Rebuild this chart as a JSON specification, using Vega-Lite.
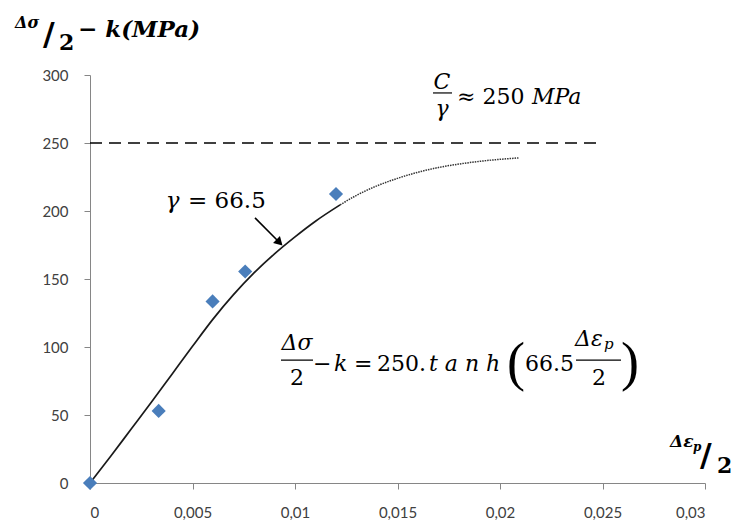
{
  "$schema": "https://vega.github.io/schema/vega-lite/v6.json",
  "width": 615,
  "height": 408,
  "autosize": {"type": "none"},
  "padding": {"left": 90, "top": 75, "right": 35, "bottom": 44},
  "background": "white",
  "config": {
    "view": {"stroke": null},
    "axis": {
      "grid": false,
      "domainColor": "#868686",
      "domainWidth": 1,
      "tickColor": "#868686",
      "tickSize": 6,
      "labelFont": "Lato",
      "labelFontSize": 15,
      "labelColor": "#404040"
    }
  },
  "datasets": {
    "obs": [
      {"x": 0, "y": 0},
      {"x": 0.00335, "y": 53},
      {"x": 0.00598, "y": 133.5},
      {"x": 0.00757, "y": 155.5},
      {"x": 0.012, "y": 212.5}
    ],
    "fit": [
      {"x": 0, "y": 0},
      {"x": 0.001, "y": 19.5},
      {"x": 0.002, "y": 39.5},
      {"x": 0.003, "y": 59.5},
      {"x": 0.004, "y": 80},
      {"x": 0.005, "y": 100.5},
      {"x": 0.006, "y": 120.5},
      {"x": 0.007, "y": 138.5},
      {"x": 0.008, "y": 154.5},
      {"x": 0.009, "y": 168.5},
      {"x": 0.01, "y": 181},
      {"x": 0.011, "y": 192.5},
      {"x": 0.0122, "y": 204.5}
    ],
    "ext": [
      {"x": 0.0122, "y": 204.5},
      {"x": 0.013, "y": 211.5},
      {"x": 0.014, "y": 218.5},
      {"x": 0.015, "y": 224},
      {"x": 0.016, "y": 228.5},
      {"x": 0.017, "y": 232},
      {"x": 0.018, "y": 234.5},
      {"x": 0.019, "y": 236.5},
      {"x": 0.02, "y": 238},
      {"x": 0.0209, "y": 239}
    ]
  },
  "encoding": {
    "x": {
      "field": "x",
      "type": "quantitative",
      "scale": {"domain": [0, 0.03], "nice": false, "zero": false},
      "axis": {
        "title": null,
        "values": [0, 0.005, 0.01, 0.015, 0.02, 0.025, 0.03],
        "labelExpr": "replace(format(datum.value, '~g'), '.', ',')",
        "labelPadding": 16
      }
    },
    "y": {
      "field": "y",
      "type": "quantitative",
      "scale": {"domain": [0, 300], "nice": false, "zero": false},
      "axis": {
        "title": null,
        "values": [0, 50, 100, 150, 200, 250, 300],
        "labelPadding": 16
      }
    }
  },
  "layer": [
    {
      "data": {"values": [{"x": 0, "x2": 0.025, "y": 250}]},
      "mark": {"type": "rule", "color": "#000000", "strokeWidth": 1.5, "strokeDash": [12, 7]},
      "encoding": {"x2": {"field": "x2"}}
    },
    {
      "data": {"name": "fit"},
      "mark": {"type": "line", "color": "#1a1a1a", "strokeWidth": 1.7, "interpolate": "monotone"},
      "encoding": {}
    },
    {
      "data": {"name": "ext"},
      "mark": {"type": "line", "color": "#333333", "strokeWidth": 1.5, "strokeDash": [1.5, 1], "interpolate": "monotone"},
      "encoding": {}
    },
    {
      "data": {"name": "obs"},
      "mark": {"type": "point", "shape": "diamond", "filled": true, "color": "#4a7ebb", "opacity": 1, "size": 200},
      "encoding": {}
    },
    {
      "data": {"values": [{"x": 0.008049, "y": 194.9, "x2": 0.009195, "y2": 177.6}]},
      "mark": {"type": "rule", "color": "#000000", "strokeWidth": 1.6},
      "encoding": {"x2": {"field": "x2"}, "y2": {"field": "y2"}}
    },
    {
      "data": {"values": [{"x": 0.009195, "y": 177.6}]},
      "mark": {"type": "point", "shape": "triangle", "filled": true, "color": "#000000", "opacity": 1, "size": 95, "angle": 135},
      "encoding": {}
    },
    {
      "data": {"values": [
        {"x": 0.016732, "x2": 0.017659, "y": 286.8},
        {"x": 0.009317, "x2": 0.010878, "y": 90.4},
        {"x": 0.023708, "x2": 0.025902, "y": 90.4}
      ]},
      "mark": {"type": "rule", "color": "#000000", "strokeWidth": 1.2},
      "encoding": {"x2": {"field": "x2"}}
    },
    {
      "data": {"values": [
        {"x": 0.017171, "y": 289.7, "t": "C"},
        {"x": 0.017171, "y": 269.9, "t": "γ"},
        {"x": 0.010098, "y": 97.8, "t": "Δσ"}
      ]},
      "mark": {"type": "text", "font": "DejaVu Serif", "fontStyle": "italic", "fontSize": 22, "align": "center", "baseline": "alphabetic", "color": "#000000"},
      "encoding": {"text": {"field": "t"}}
    },
    {
      "data": {"values": [
        {"x": 0.010098, "y": 72.1, "t": "2"},
        {"x": 0.02483, "y": 72.1, "t": "2"}
      ]},
      "mark": {"type": "text", "font": "DejaVu Serif", "fontSize": 22, "align": "center", "baseline": "alphabetic", "color": "#000000"},
      "encoding": {"text": {"field": "t"}}
    },
    {
      "data": {"values": [
        {"x": 0.021561, "y": 278.7, "t": "MPa"},
        {"x": 0.0119, "y": 82.4, "t": "k"},
        {"x": 0.016537, "y": 82.4, "t": "t a n h"},
        {"x": 0.023659, "y": 100.7, "t": "Δε"}
      ]},
      "mark": {"type": "text", "font": "DejaVu Serif", "fontStyle": "italic", "fontSize": 22, "align": "left", "baseline": "alphabetic", "color": "#000000"},
      "encoding": {"text": {"field": "t"}}
    },
    {
      "data": {"values": [{"x": 0.0037, "y": 202.2, "t": "γ"}]},
      "mark": {"type": "text", "font": "DejaVu Serif", "fontStyle": "italic", "fontSize": 23, "align": "left", "baseline": "alphabetic", "color": "#000000"},
      "encoding": {"text": {"field": "t"}}
    },
    {
      "data": {"values": [{"x": 0.00478, "y": 202.2, "t": "= 66.5"}]},
      "mark": {"type": "text", "font": "DejaVu Serif", "fontSize": 23, "align": "left", "baseline": "alphabetic", "color": "#000000"},
      "encoding": {"text": {"field": "t"}}
    },
    {
      "data": {"values": [
        {"x": 0.017902, "y": 278.7, "t": "≈ 250"},
        {"x": 0.010878, "y": 82.4, "t": "−"},
        {"x": 0.012878, "y": 82.4, "t": "="},
        {"x": 0.014, "y": 82.4, "t": "250."},
        {"x": 0.02122, "y": 82.4, "t": "66.5"}
      ]},
      "mark": {"type": "text", "font": "DejaVu Serif", "fontSize": 22, "align": "left", "baseline": "alphabetic", "color": "#000000"},
      "encoding": {"text": {"field": "t"}}
    },
    {
      "data": {"values": [{"x": 0.025073, "y": 98.5, "t": "p"}]},
      "mark": {"type": "text", "font": "DejaVu Serif", "fontStyle": "italic", "fontSize": 15, "align": "left", "baseline": "alphabetic", "color": "#000000"},
      "encoding": {"text": {"field": "t"}}
    },
    {
      "data": {"values": [
        {"x": 0.02078, "y": 75.7, "t": "("},
        {"x": 0.026341, "y": 75.7, "t": ")"}
      ]},
      "mark": {"type": "text", "font": "Liberation Serif", "fontSize": 54, "align": "center", "baseline": "alphabetic", "color": "#000000"},
      "encoding": {"text": {"field": "t"}}
    },
    {
      "data": {"values": [{"x": -0.00366, "y": 334.5, "t": "Δσ"}]},
      "mark": {"type": "text", "font": "DejaVu Serif", "fontStyle": "italic", "fontWeight": "bold", "fontSize": 16, "align": "left", "baseline": "alphabetic", "color": "#000000"},
      "encoding": {"text": {"field": "t"}}
    },
    {
      "data": {"values": [
        {"x": -0.00229, "y": 322, "t": "/"},
        {"x": 0.02976, "y": 12.5, "t": "/"}
      ]},
      "mark": {"type": "text", "font": "DejaVu Serif", "fontWeight": "bold", "fontSize": 32, "align": "left", "baseline": "alphabetic", "color": "#000000"},
      "encoding": {"text": {"field": "t"}}
    },
    {
      "data": {"values": [
        {"x": -0.00151, "y": 318.4, "t": "2"},
        {"x": 0.03059, "y": 7.4, "t": "2"}
      ]},
      "mark": {"type": "text", "font": "DejaVu Serif", "fontWeight": "bold", "fontSize": 22, "align": "left", "baseline": "alphabetic", "color": "#000000"},
      "encoding": {"text": {"field": "t"}}
    },
    {
      "data": {"values": [{"x": -0.000585, "y": 327.9, "t": "− k(MPa)"}]},
      "mark": {"type": "text", "font": "DejaVu Serif", "fontStyle": "italic", "fontWeight": "bold", "fontSize": 23, "align": "left", "baseline": "alphabetic", "color": "#000000"},
      "encoding": {"text": {"field": "t"}}
    },
    {
      "data": {"values": [{"x": 0.02829, "y": 26.5, "t": "Δε"}]},
      "mark": {"type": "text", "font": "DejaVu Serif", "fontStyle": "italic", "fontWeight": "bold", "fontSize": 17, "align": "left", "baseline": "alphabetic", "color": "#000000"},
      "encoding": {"text": {"field": "t"}}
    },
    {
      "data": {"values": [{"x": 0.02942, "y": 23.5, "t": "p"}]},
      "mark": {"type": "text", "font": "DejaVu Serif", "fontStyle": "italic", "fontWeight": "bold", "fontSize": 12, "align": "left", "baseline": "alphabetic", "color": "#000000"},
      "encoding": {"text": {"field": "t"}}
    }
  ]
}
